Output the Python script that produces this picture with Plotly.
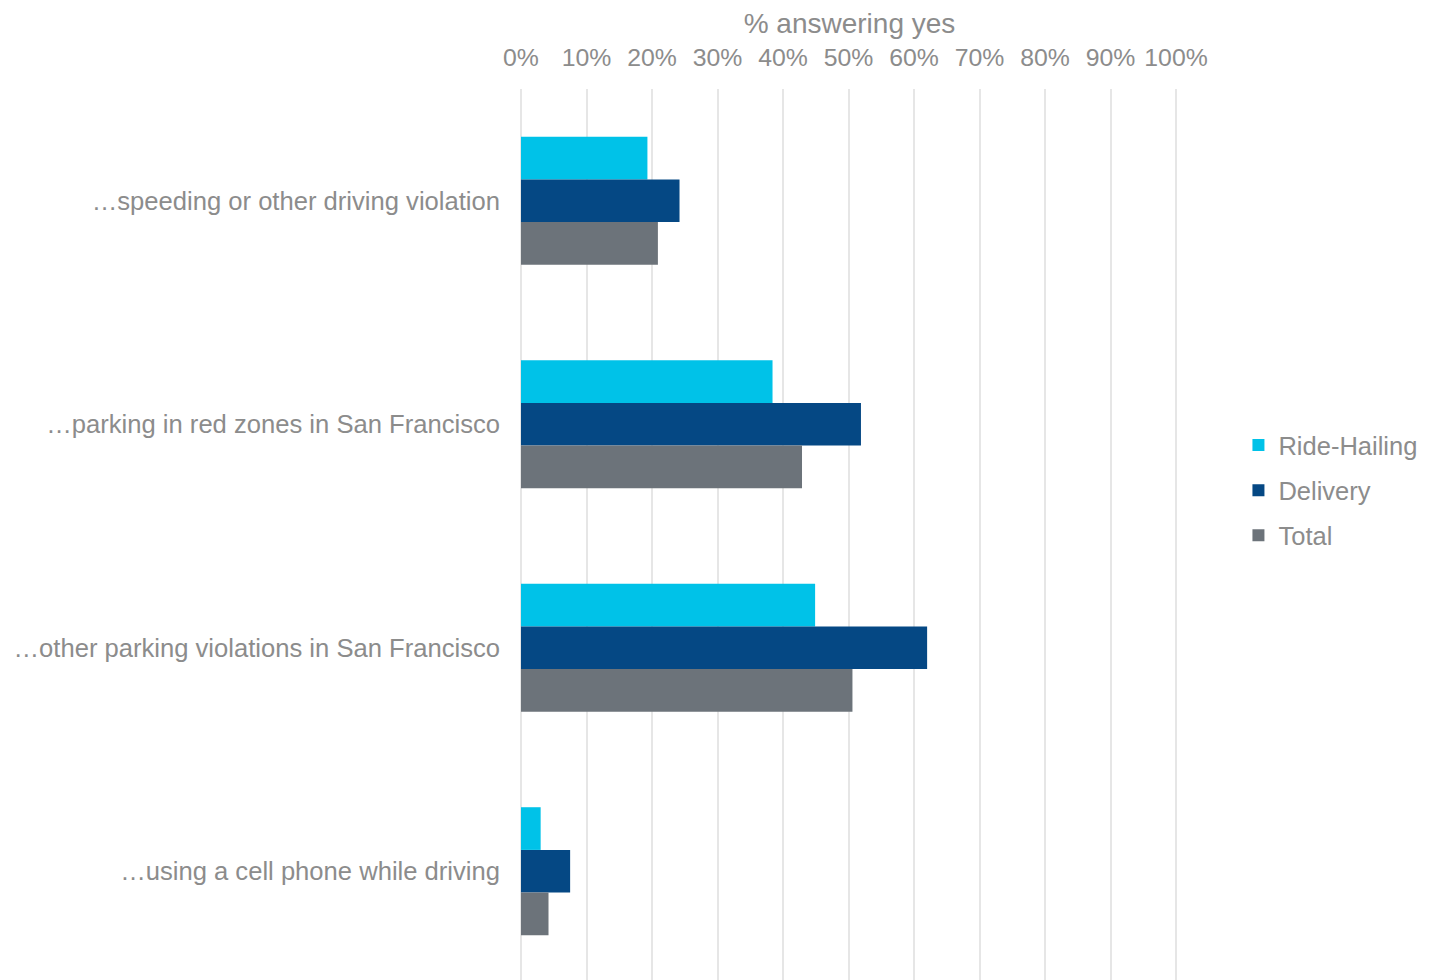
import plotly.graph_objects as go

categories = [
    "…speeding or other driving violation",
    "…parking in red zones in San Francisco",
    "…other parking violations in San Francisco",
    "…using a cell phone while driving",
]
ride_hailing = [0.193, 0.384, 0.449, 0.030]
delivery = [0.242, 0.519, 0.620, 0.075]
total = [0.209, 0.429, 0.506, 0.042]

series = [
    ("Ride-Hailing", ride_hailing, "#00C2E8"),
    ("Delivery", delivery, "#054884"),
    ("Total", total, "#6C737A"),
]

TXT = "#8C8C8C"
FONT = "Liberation Sans, Arial, sans-serif"

fig = go.Figure()
for i, (name, vals, col) in enumerate(series):
    fig.add_trace(go.Bar(
        y=categories, x=vals, name=name, orientation="h",
        marker=dict(color=col, line=dict(width=0)),
        legendgroup=f"g{i}",
    ))

fig.update_layout(
    width=1433, height=980,
    margin=dict(l=513, r=263, t=81, b=5),
    paper_bgcolor="white", plot_bgcolor="white",
    barmode="group", bargap=0.427, bargroupgap=0,
    font=dict(family=FONT, color=TXT, size=24),
    legend=dict(
        x=1.092, xanchor="left", y=0.551, yanchor="middle",
        traceorder="grouped", tracegroupgap=9,
        font=dict(size=25.5, color=TXT, family=FONT),
        bgcolor="rgba(0,0,0,0)",
    ),
    xaxis=dict(
        side="top", range=[0, 1.003], tickvals=[i / 10 for i in range(11)],
        tickformat=".0%",
        showgrid=True, gridcolor="#E6E6E6", gridwidth=2,
        zeroline=True, zerolinecolor="#E6E6E6", zerolinewidth=2,
        showline=False, ticks="", ticklabelstandoff=17,
        tickfont=dict(size=24.8, color=TXT, family=FONT),
        title=dict(text="% answering yes", standoff=6,
                   font=dict(size=28, color=TXT, family=FONT)),
    ),
    yaxis=dict(
        categoryorder="array", categoryarray=categories,
        range=[3.5, -0.5], showgrid=False, zeroline=False, showline=False,
        ticks="", ticklabelstandoff=20,
        tickfont=dict(size=25.6, color=TXT, family=FONT),
    ),
)

fig.write_html("out.html")
